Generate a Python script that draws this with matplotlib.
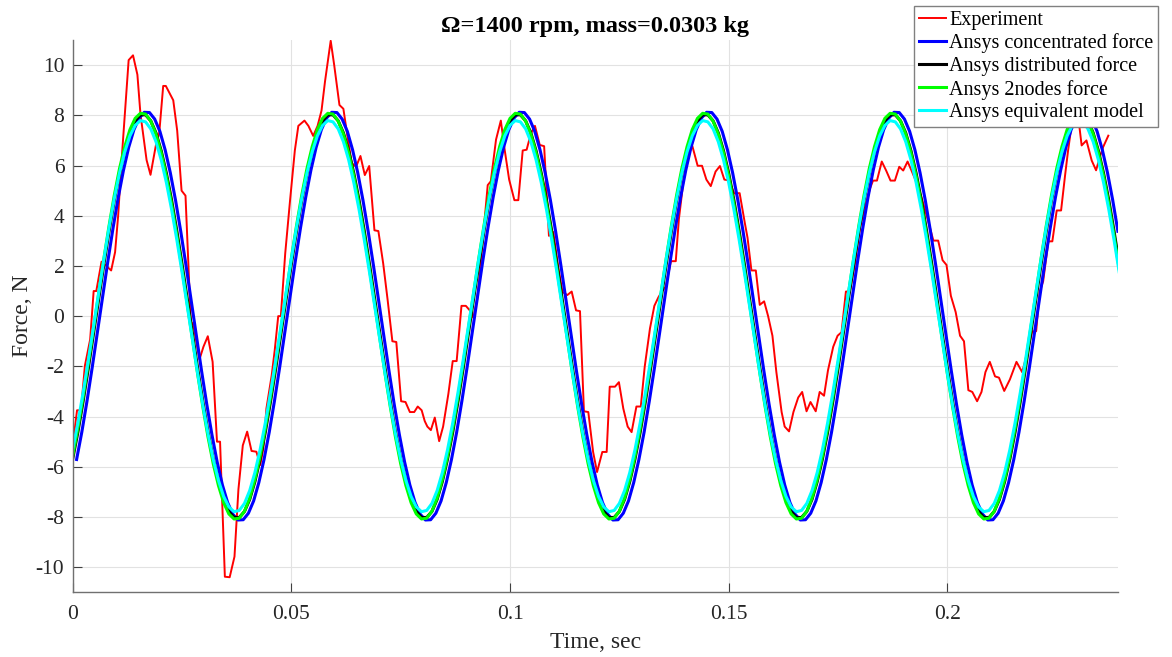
import numpy as np
import matplotlib
matplotlib.use("Agg")
import matplotlib.pyplot as plt
from matplotlib.ticker import FuncFormatter

plt.rcParams['font.family'] = ['Liberation Serif', 'DejaVu Serif']
plt.rcParams['axes.unicode_minus'] = False

# Shaft speed and simulation output step (36 samples per revolution)
rpm = 1400
period = 60.0 / rpm
dt = period / 36

# Measured force signal
exp_t = [
    0.0000, 0.0010, 0.0019, 0.0028, 0.0040, 0.0048, 0.0054, 0.0066, 0.0071, 0.0080,
    0.0088, 0.0097, 0.0104, 0.0112, 0.0120, 0.0128, 0.0138, 0.0148, 0.0155, 0.0169,
    0.0178, 0.0190, 0.0198, 0.0207, 0.0213, 0.0230, 0.0239, 0.0249, 0.0258, 0.0270,
    0.0276, 0.0290, 0.0299, 0.0309, 0.0320, 0.0330, 0.0337, 0.0348, 0.0359, 0.0370,
    0.0379, 0.0389, 0.0399, 0.0409, 0.0420, 0.0429, 0.0436, 0.0443, 0.0455, 0.0462,
    0.0470, 0.0476, 0.0486, 0.0497, 0.0508, 0.0516, 0.0530, 0.0539, 0.0550, 0.0560,
    0.0569, 0.0577, 0.0590, 0.0598, 0.0610, 0.0619, 0.0628, 0.0638, 0.0648, 0.0658,
    0.0668, 0.0678, 0.0690, 0.0699, 0.0710, 0.0720, 0.0731, 0.0740, 0.0751, 0.0761,
    0.0771, 0.0781, 0.0789, 0.0798, 0.0805, 0.0811, 0.0819, 0.0828, 0.0838, 0.0847,
    0.0859, 0.0869, 0.0878, 0.0889, 0.0899, 0.0908, 0.0916, 0.0925, 0.0931, 0.0939,
    0.0949, 0.0956, 0.0968, 0.0979, 0.0988, 0.0998, 0.1010, 0.1019, 0.1029, 0.1038,
    0.1048, 0.1057, 0.1068, 0.1078, 0.1089, 0.1099, 0.1110, 0.1120, 0.1131, 0.1141,
    0.1151, 0.1160, 0.1169, 0.1179, 0.1190, 0.1199, 0.1211, 0.1221, 0.1228, 0.1240,
    0.1249, 0.1259, 0.1269, 0.1278, 0.1289, 0.1299, 0.1308, 0.1320, 0.1330, 0.1339,
    0.1347, 0.1356, 0.1368, 0.1379, 0.1386, 0.1396, 0.1407, 0.1417, 0.1429, 0.1439,
    0.1449, 0.1459, 0.1470, 0.1480, 0.1490, 0.1500, 0.1513, 0.1525, 0.1537, 0.1543,
    0.1552, 0.1562, 0.1571, 0.1581, 0.1590, 0.1600, 0.1609, 0.1621, 0.1628, 0.1638,
    0.1648, 0.1659, 0.1668, 0.1678, 0.1687, 0.1699, 0.1708, 0.1718, 0.1727, 0.1739,
    0.1749, 0.1758, 0.1768, 0.1777, 0.1789, 0.1800, 0.1811, 0.1823, 0.1830, 0.1839,
    0.1850, 0.1860, 0.1870, 0.1880, 0.1890, 0.1899, 0.1909, 0.1918, 0.1930, 0.1941,
    0.1953, 0.1968, 0.1979, 0.1989, 0.1998, 0.2008, 0.2019, 0.2029, 0.2038, 0.2048,
    0.2057, 0.2068, 0.2078, 0.2087, 0.2097, 0.2109, 0.2118, 0.2130, 0.2143, 0.2158,
    0.2171, 0.2182, 0.2194, 0.2203, 0.2211, 0.2219, 0.2231, 0.2240, 0.2250, 0.2260,
    0.2269, 0.2276, 0.2284, 0.2295, 0.2302, 0.2307, 0.2318, 0.2330, 0.2340, 0.2348,
    0.2356, 0.2368,
]
exp_force = [
    -5.17, -3.75, -3.75, -1.97, -0.93, 1.00, 1.00, 2.17, 2.10, 1.95,
    1.82, 2.55, 4.00, 6.24, 8.20, 10.20, 10.39, 9.62, 8.05, 6.22,
    5.63, 6.78, 7.30, 9.17, 9.17, 8.60, 7.39, 5.00, 4.80, -0.20,
    -0.35, -1.72, -1.22, -0.80, -1.82, -5.00, -5.00, -10.38, -10.40, -9.58,
    -6.90, -5.15, -4.60, -5.37, -5.40, -5.93, -5.27, -3.68, -2.37, -1.36,
    0.00, 0.00, 2.50, 4.60, 6.60, 7.58, 7.79, 7.58, 7.18, 7.58,
    8.19, 9.35, 10.97, 10.00, 8.41, 8.26, 7.20, 6.10, 5.95, 6.38,
    5.62, 5.98, 3.42, 3.39, 2.10, 0.67, -1.00, -1.03, -3.39, -3.42,
    -3.82, -3.82, -3.60, -3.75, -4.18, -4.40, -4.54, -4.04, -4.98, -4.40,
    -3.10, -1.79, -1.79, 0.41, 0.41, 0.23, -0.06, 0.67, 1.70, 3.27,
    5.22, 5.37, 7.03, 7.79, 6.60, 5.44, 4.62, 4.62, 6.60, 6.63,
    7.29, 7.58, 6.82, 6.77, 3.20, 3.35, 1.97, 0.96, 0.84, 0.98,
    0.23, 0.20, -3.79, -3.82, -5.41, -6.21, -5.41, -5.41, -2.81, -2.81,
    -2.63, -3.68, -4.40, -4.62, -3.60, -3.60, -2.01, -0.49, 0.41, 0.74,
    0.98, 1.17, 2.19, 2.19, 3.85, 5.30, 6.45, 6.77, 5.99, 5.99,
    5.44, 5.18, 5.76, 5.98, 5.44, 5.41, 4.89, 4.90, 3.70, 3.13,
    1.82, 1.82, 0.45, 0.59, 0.01, -0.78, -2.23, -3.82, -4.40, -4.59,
    -3.82, -3.24, -3.02, -3.79, -3.42, -3.79, -3.02, -3.17, -2.16, -1.22,
    -0.78, -0.64, 0.98, 0.98, 2.11, 3.49, 4.28, 5.08, 5.40, 5.40,
    6.16, 5.80, 5.40, 5.40, 5.95, 5.80, 6.16, 5.80, 5.30, 4.72,
    3.99, 3.01, 3.01, 2.23, 2.04, 0.81, 0.16, -0.78, -1.00, -2.95,
    -3.02, -3.39, -3.02, -2.23, -1.82, -2.40, -2.45, -2.98, -2.52, -1.82,
    -2.23, -1.50, -0.61, -0.60, 0.96, 1.39, 2.98, 2.98, 4.21, 4.21,
    5.59, 6.60, 7.60, 8.00, 7.53, 6.80, 7.00, 6.20, 5.81, 6.30,
    6.73, 7.19,
]

# Ansys transient results, one revolution per three rows
conc_force = [
    -5.71, -4.62, -3.38, -2.04, -0.64, 0.78, 2.18, 3.51, 4.73, 5.81, 6.72, 7.42,
    7.89, 8.12, 8.11, 7.85, 7.36, 6.63, 5.71, 4.62, 3.38, 2.04, 0.64, -0.78,
    -2.18, -3.51, -4.73, -5.81, -6.72, -7.42, -7.89, -8.12, -8.11, -7.85, -7.36, -6.63,
    -5.71, -4.62, -3.38, -2.04, -0.64, 0.78, 2.18, 3.51, 4.73, 5.81, 6.72, 7.42,
    7.89, 8.12, 8.11, 7.85, 7.36, 6.63, 5.71, 4.62, 3.38, 2.04, 0.64, -0.78,
    -2.18, -3.51, -4.73, -5.81, -6.72, -7.42, -7.89, -8.12, -8.11, -7.85, -7.36, -6.63,
    -5.71, -4.62, -3.38, -2.04, -0.64, 0.78, 2.18, 3.51, 4.73, 5.81, 6.72, 7.42,
    7.89, 8.12, 8.11, 7.85, 7.36, 6.63, 5.71, 4.62, 3.38, 2.04, 0.64, -0.78,
    -2.18, -3.51, -4.73, -5.81, -6.72, -7.42, -7.89, -8.12, -8.11, -7.85, -7.36, -6.63,
    -5.71, -4.62, -3.38, -2.04, -0.64, 0.78, 2.18, 3.51, 4.73, 5.81, 6.72, 7.42,
    7.89, 8.12, 8.11, 7.85, 7.36, 6.63, 5.71, 4.62, 3.38, 2.04, 0.64, -0.78,
    -2.18, -3.51, -4.73, -5.81, -6.72, -7.42, -7.89, -8.12, -8.11, -7.85, -7.36, -6.63,
    -5.71, -4.62, -3.38, -2.04, -0.64, 0.78, 2.18, 3.51, 4.73, 5.81, 6.72, 7.42,
    7.89, 8.12, 8.11, 7.85, 7.36, 6.63, 5.71, 4.62, 3.38, 2.04, 0.64, -0.78,
    -2.18, -3.51, -4.73, -5.81, -6.72, -7.42, -7.89, -8.12, -8.11, -7.85, -7.36, -6.63,
    -5.71, -4.62, -3.38, -2.04, -0.64, 0.78, 2.18, 3.51, 4.73, 5.81, 6.72, 7.42,
    7.89, 8.12, 8.11, 7.85, 7.36, 6.63, 5.71, 4.62, 3.38,
]
dist_force = [
    -5.69, -4.62, -3.40, -2.08, -0.70, 0.70, 2.08, 3.40, 4.62, 5.69, 6.59, 7.30,
    7.78, 8.02, 8.02, 7.78, 7.30, 6.59, 5.69, 4.62, 3.40, 2.08, 0.70, -0.70,
    -2.08, -3.40, -4.62, -5.69, -6.59, -7.30, -7.78, -8.02, -8.02, -7.78, -7.30, -6.59,
    -5.69, -4.62, -3.40, -2.08, -0.70, 0.70, 2.08, 3.40, 4.62, 5.69, 6.59, 7.30,
    7.78, 8.02, 8.02, 7.78, 7.30, 6.59, 5.69, 4.62, 3.40, 2.08, 0.70, -0.70,
    -2.08, -3.40, -4.62, -5.69, -6.59, -7.30, -7.78, -8.02, -8.02, -7.78, -7.30, -6.59,
    -5.69, -4.62, -3.40, -2.08, -0.70, 0.70, 2.08, 3.40, 4.62, 5.69, 6.59, 7.30,
    7.78, 8.02, 8.02, 7.78, 7.30, 6.59, 5.69, 4.62, 3.40, 2.08, 0.70, -0.70,
    -2.08, -3.40, -4.62, -5.69, -6.59, -7.30, -7.78, -8.02, -8.02, -7.78, -7.30, -6.59,
    -5.69, -4.62, -3.40, -2.08, -0.70, 0.70, 2.08, 3.40, 4.62, 5.69, 6.59, 7.30,
    7.78, 8.02, 8.02, 7.78, 7.30, 6.59, 5.69, 4.62, 3.40, 2.08, 0.70, -0.70,
    -2.08, -3.40, -4.62, -5.69, -6.59, -7.30, -7.78, -8.02, -8.02, -7.78, -7.30, -6.59,
    -5.69, -4.62, -3.40, -2.08, -0.70, 0.70, 2.08, 3.40, 4.62, 5.69, 6.59, 7.30,
    7.78, 8.02, 8.02, 7.78, 7.30, 6.59, 5.69, 4.62, 3.40, 2.08, 0.70, -0.70,
    -2.08, -3.40, -4.62, -5.69, -6.59, -7.30, -7.78, -8.02, -8.02, -7.78, -7.30, -6.59,
    -5.69, -4.62, -3.40, -2.08, -0.70, 0.70, 2.08, 3.40, 4.62, 5.69, 6.59, 7.30,
    7.78, 8.02, 8.02, 7.78, 7.30, 6.59, 5.69, 4.62, 3.40, 2.08,
]
nodes2_force = [
    -5.58, -4.47, -3.23, -1.89, -0.49, 0.92, 2.30, 3.61, 4.82, 5.88, 6.75, 7.43,
    7.88, 8.08, 8.05, 7.77, 7.25, 6.51, 5.58, 4.47, 3.23, 1.89, 0.49, -0.92,
    -2.30, -3.61, -4.82, -5.88, -6.75, -7.43, -7.88, -8.08, -8.05, -7.77, -7.25, -6.51,
    -5.58, -4.47, -3.23, -1.89, -0.49, 0.92, 2.30, 3.61, 4.82, 5.88, 6.75, 7.43,
    7.88, 8.08, 8.05, 7.77, 7.25, 6.51, 5.58, 4.47, 3.23, 1.89, 0.49, -0.92,
    -2.30, -3.61, -4.82, -5.88, -6.75, -7.43, -7.88, -8.08, -8.05, -7.77, -7.25, -6.51,
    -5.58, -4.47, -3.23, -1.89, -0.49, 0.92, 2.30, 3.61, 4.82, 5.88, 6.75, 7.43,
    7.88, 8.08, 8.05, 7.77, 7.25, 6.51, 5.58, 4.47, 3.23, 1.89, 0.49, -0.92,
    -2.30, -3.61, -4.82, -5.88, -6.75, -7.43, -7.88, -8.08, -8.05, -7.77, -7.25, -6.51,
    -5.58, -4.47, -3.23, -1.89, -0.49, 0.92, 2.30, 3.61, 4.82, 5.88, 6.75, 7.43,
    7.88, 8.08, 8.05, 7.77, 7.25, 6.51, 5.58, 4.47, 3.23, 1.89, 0.49, -0.92,
    -2.30, -3.61, -4.82, -5.88, -6.75, -7.43, -7.88, -8.08, -8.05, -7.77, -7.25, -6.51,
    -5.58, -4.47, -3.23, -1.89, -0.49, 0.92, 2.30, 3.61, 4.82, 5.88, 6.75, 7.43,
    7.88, 8.08, 8.05, 7.77, 7.25, 6.51, 5.58, 4.47, 3.23, 1.89, 0.49, -0.92,
    -2.30, -3.61, -4.82, -5.88, -6.75, -7.43, -7.88, -8.08, -8.05, -7.77, -7.25, -6.51,
    -5.58, -4.47, -3.23, -1.89, -0.49, 0.92, 2.30, 3.61, 4.82, 5.88, 6.75, 7.43,
    7.88, 8.08, 8.05, 7.77, 7.25, 6.51, 5.58, 4.47, 3.23, 1.89,
]
equiv_force = [
    -5.32, -4.25, -3.05, -1.76, -0.41, 0.95, 2.28, 3.54, 4.69, 5.70, 6.54, 7.18,
    7.60, 7.79, 7.74, 7.46, 6.95, 6.23, 5.32, 4.25, 3.05, 1.76, 0.41, -0.95,
    -2.28, -3.54, -4.69, -5.70, -6.54, -7.18, -7.60, -7.79, -7.74, -7.46, -6.95, -6.23,
    -5.32, -4.25, -3.05, -1.76, -0.41, 0.95, 2.28, 3.54, 4.69, 5.70, 6.54, 7.18,
    7.60, 7.79, 7.74, 7.46, 6.95, 6.23, 5.32, 4.25, 3.05, 1.76, 0.41, -0.95,
    -2.28, -3.54, -4.69, -5.70, -6.54, -7.18, -7.60, -7.79, -7.74, -7.46, -6.95, -6.23,
    -5.32, -4.25, -3.05, -1.76, -0.41, 0.95, 2.28, 3.54, 4.69, 5.70, 6.54, 7.18,
    7.60, 7.79, 7.74, 7.46, 6.95, 6.23, 5.32, 4.25, 3.05, 1.76, 0.41, -0.95,
    -2.28, -3.54, -4.69, -5.70, -6.54, -7.18, -7.60, -7.79, -7.74, -7.46, -6.95, -6.23,
    -5.32, -4.25, -3.05, -1.76, -0.41, 0.95, 2.28, 3.54, 4.69, 5.70, 6.54, 7.18,
    7.60, 7.79, 7.74, 7.46, 6.95, 6.23, 5.32, 4.25, 3.05, 1.76, 0.41, -0.95,
    -2.28, -3.54, -4.69, -5.70, -6.54, -7.18, -7.60, -7.79, -7.74, -7.46, -6.95, -6.23,
    -5.32, -4.25, -3.05, -1.76, -0.41, 0.95, 2.28, 3.54, 4.69, 5.70, 6.54, 7.18,
    7.60, 7.79, 7.74, 7.46, 6.95, 6.23, 5.32, 4.25, 3.05, 1.76, 0.41, -0.95,
    -2.28, -3.54, -4.69, -5.70, -6.54, -7.18, -7.60, -7.79, -7.74, -7.46, -6.95, -6.23,
    -5.32, -4.25, -3.05, -1.76, -0.41, 0.95, 2.28, 3.54, 4.69, 5.70, 6.54, 7.18,
    7.60, 7.79, 7.74, 7.46, 6.95, 6.23, 5.32, 4.25, 3.05, 1.76,
]

series_labels = [
    "Experiment",
    "Ansys concentrated force",
    "Ansys distributed force",
    "Ansys 2nodes force",
    "Ansys equivalent model",
]
x_ticks = [0, 0.05, 0.1, 0.15, 0.2]
y_ticks = [-10, -8, -6, -4, -2, 0, 2, 4, 6, 8, 10]

t_sim = np.arange(len(dist_force)) * dt
t_conc = 0.0009 + np.arange(len(conc_force)) * dt

fig = plt.figure(figsize=(11.72, 6.57), dpi=100)
ax = fig.add_axes([0.0620, 0.0985, 0.8915, 0.8406])

ax.plot(exp_t, exp_force, color=(1, 0, 0), lw=1.4, label=series_labels[0])
ax.plot(t_conc, conc_force, color=(0, 0, 1), lw=2.2, label=series_labels[1])
ax.plot(t_sim, dist_force, color=(0, 0, 0), lw=2.2, label=series_labels[2])
ax.plot(t_sim, nodes2_force, color=(0, 1, 0), lw=2.2, label=series_labels[3])
ax.plot(t_sim, equiv_force, color=(0, 1, 1), lw=2.2, label=series_labels[4])

ax.set_xlim(0, 0.2389)
ax.set_ylim(-11, 11)
ax.set_xticks(x_ticks)
ax.set_yticks(y_ticks)
ax.xaxis.set_major_formatter(FuncFormatter(lambda v, p: f"{v:g}"))
ax.yaxis.set_major_formatter(FuncFormatter(lambda v, p: f"{v:g}"))

ax.grid(True, color='#e2e2e2', lw=0.8)
ax.set_axisbelow(True)
for side in ('top', 'right'):
    ax.spines[side].set_visible(False)
for side in ('left', 'bottom'):
    ax.spines[side].set_color('#707070')
    ax.spines[side].set_linewidth(1.0)

ax.tick_params(direction='in', length=6.5, width=0.8, color='#404040',
               labelsize=15.5, labelcolor='#262626')
ax.tick_params(axis='x', pad=9)
ax.tick_params(axis='y', pad=6)

ax.set_title("Ω=1400 rpm, mass=0.0303 kg", fontsize=17.5, fontweight='bold', pad=6)
ax.set_xlabel("Time, sec", fontsize=17, color='#262626', labelpad=6)
ax.set_ylabel("Force, N", fontsize=17, color='#262626', labelpad=2)

leg = ax.legend(loc='upper right', bbox_to_anchor=(1158.3 / 1172, 1 - 6 / 657),
                bbox_transform=fig.transFigure, fontsize=14.5, frameon=True,
                fancybox=False, edgecolor='#808080', framealpha=1,
                borderaxespad=0, borderpad=0.25, handlelength=1.35,
                handletextpad=0.15, labelspacing=0.16)
leg.get_frame().set_linewidth(1.0)

fig.savefig("out.png", dpi=100)
